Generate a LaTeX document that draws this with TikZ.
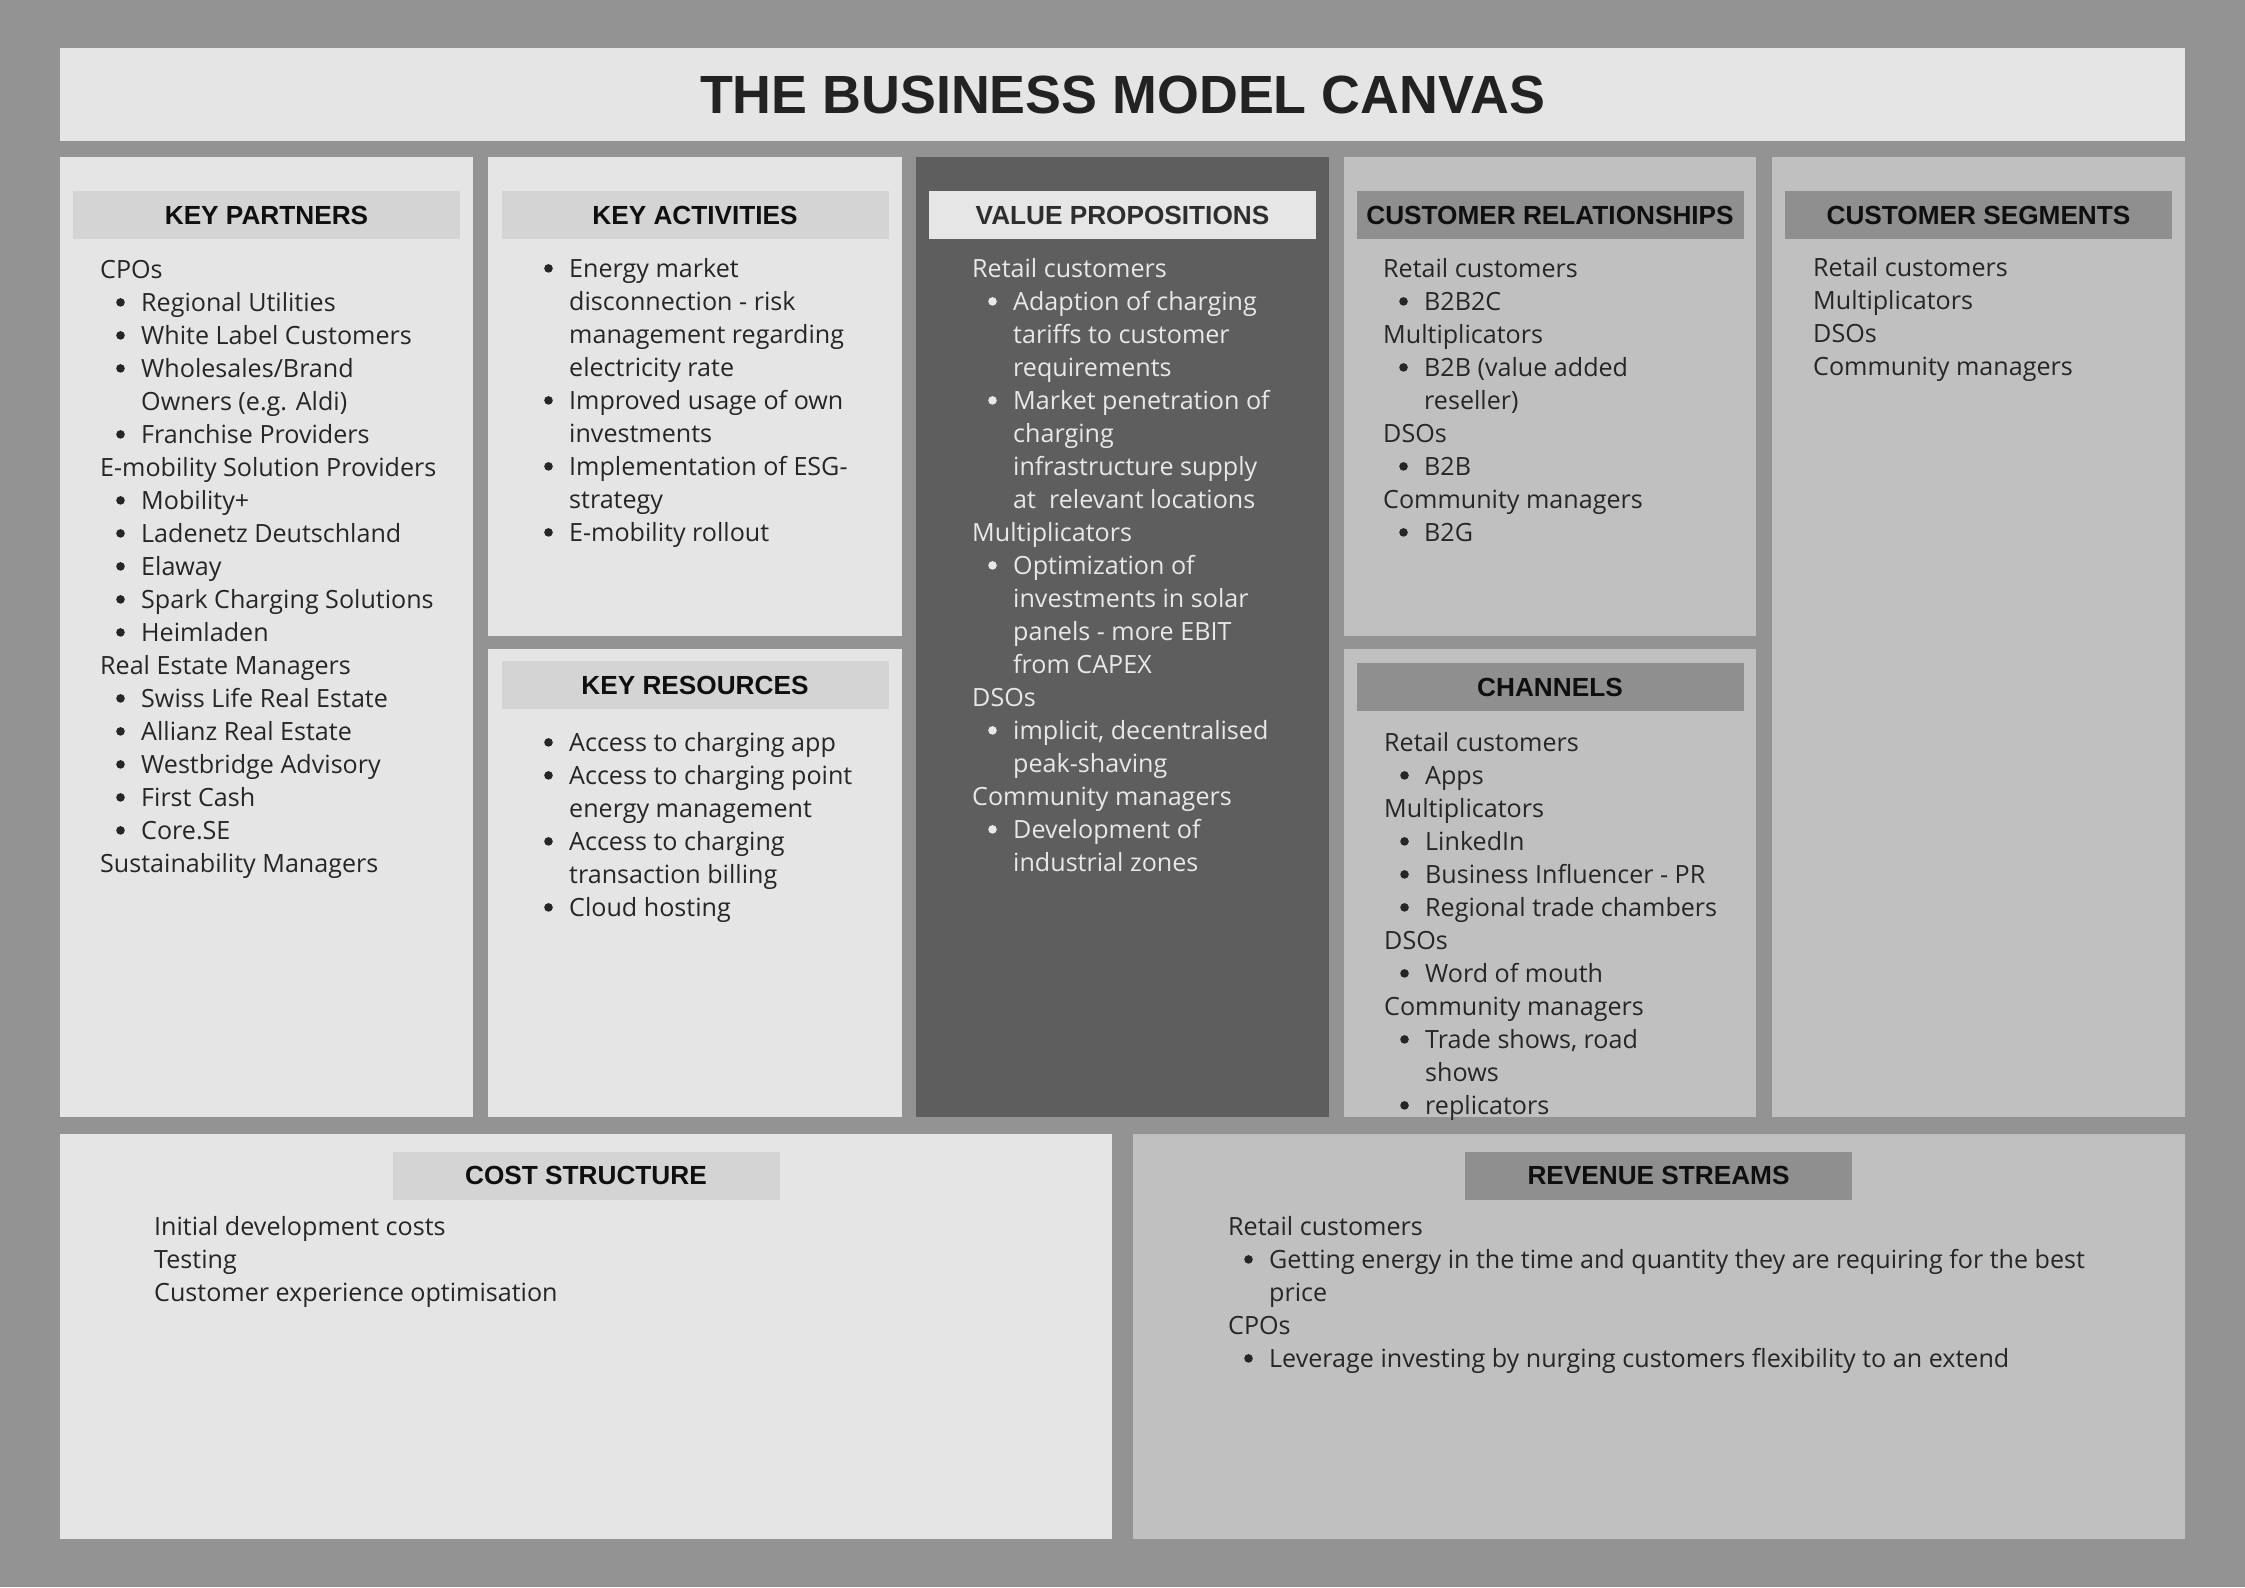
\documentclass[tikz,border=0pt]{standalone}
\usepackage{fontspec}
\setmainfont{Open Sans}
\newfontfamily\hfont{Liberation Sans}
\definecolor{bgc}{HTML}{939393}
\definecolor{lt}{HTML}{E5E5E5}
\definecolor{md}{HTML}{C0C0C0}
\definecolor{dk}{HTML}{5E5E5E}
\definecolor{hdl}{HTML}{D4D4D4}
\definecolor{hdm}{HTML}{8F8F8F}
\definecolor{hdv}{HTML}{E6E6E6}
\definecolor{txt}{HTML}{262626}
\definecolor{ltxt}{HTML}{E8E8E8}
\definecolor{htxt}{HTML}{0F0F0F}
\definecolor{vhtxt}{HTML}{2E2E2E}
\definecolor{ttxt}{HTML}{222222}
\tikzset{
  body/.style={inner sep=0pt, font=\fontsize{25.1}{33}\selectfont, text=txt},
  body-dot/.style={fill=txt},
  light/.style={inner sep=0pt, font=\fontsize{25.1}{33}\selectfont, text=ltxt},
  light-dot/.style={fill=ltxt},
  hdr/.style={minimum width=387pt, minimum height=48pt, inner sep=0pt,
    font=\hfont\bfseries\fontsize{26.2}{30}\selectfont, text=htxt},
}
\newcommand\blist[5]{%
  \foreach \k/\t [count=\i] in {#5}{%
    \pgfmathsetmacro\yy{#3+(\i-1)*33.0}%
    \ifcase\k
      \node[#4, anchor=base west] (#1-\i) at (#2,\yy) {\t};
    \or
      \fill[#4-dot] (#2+20.5,\yy-8.6) circle (4.3);
      \node[#4, anchor=base west] (#1-\i) at (#2+41,\yy) {\t};
    \or
      \node[#4, anchor=base west] (#1-\i) at (#2+41,\yy) {\t};
    \fi
  }}
\begin{document}
\begin{tikzpicture}[x=1pt,y=-1pt]
\fill[bgc] (0,0) rectangle (2245,1587);
\useasboundingbox (0,0) rectangle (2245,1587);
% title
\fill[lt] (60,48) rectangle (2185,141);
\node[inner sep=0pt, font=\hfont\bfseries\fontsize{53.8}{60}\selectfont, text=ttxt] (title) at (1122.5,95) {THE BUSINESS MODEL CANVAS};
% boxes
\fill[lt] (60,157) rectangle (473,1117);
\fill[lt] (488,157) rectangle (902,636);
\fill[lt] (488,649) rectangle (902,1117);
\fill[dk] (916,157) rectangle (1329,1117);
\fill[md] (1344,157) rectangle (1756,636);
\fill[md] (1344,649) rectangle (1756,1117);
\fill[md] (1772,157) rectangle (2185,1117);
\fill[lt] (60,1134) rectangle (1112,1539);
\fill[md] (1133,1134) rectangle (2185,1539);
% headers
\node[hdr, fill=hdl] (kph) at (266.5,215) {KEY PARTNERS};
\node[hdr, fill=hdl] (kah) at (695,215) {KEY ACTIVITIES};
\node[hdr, fill=hdl] (krh) at (695,685) {KEY RESOURCES};
\node[hdr, fill=hdv, text=vhtxt] (vph) at (1122.5,215) {VALUE PROPOSITIONS};
\node[hdr, fill=hdm] (crh) at (1550,215) {CUSTOMER RELATIONSHIPS};
\node[hdr, fill=hdm] (chh) at (1550,687) {CHANNELS};
\node[hdr, fill=hdm] (csh) at (1978.5,215) {CUSTOMER SEGMENTS};
\node[hdr, fill=hdl] (cost) at (586,1175.5) {COST STRUCTURE};
\node[hdr, fill=hdm] (revh) at (1658.5,1175.5) {REVENUE STREAMS};
% lists
\blist{kp}{100}{278}{body}{0/CPOs, 1/Regional Utilities, 1/White Label Customers, 1/{Wholesales/Brand}, 2/Owners (e.g. Aldi), 1/Franchise Providers, 0/E-mobility Solution Providers, 1/Mobility+, 1/Ladenetz Deutschland, 1/Elaway, 1/Spark Charging Solutions, 1/Heimladen, 0/Real Estate Managers, 1/Swiss Life Real Estate, 1/Allianz Real Estate, 1/Westbridge Advisory, 1/First Cash, 1/Core.SE, 0/Sustainability Managers}
\blist{ka}{528}{277}{body}{1/Energy market, 2/disconnection - risk, 2/management regarding, 2/electricity rate, 1/Improved usage of own, 2/investments, 1/Implementation of ESG-, 2/strategy, 1/E-mobility rollout}
\blist{kr}{528}{751}{body}{1/Access to charging app, 1/Access to charging point, 2/energy management, 1/Access to charging, 2/transaction billing, 1/Cloud hosting}
\blist{vp}{972}{277}{light}{0/Retail customers, 1/Adaption of charging, 2/tariffs to customer, 2/requirements, 1/Market penetration of, 2/charging, 2/infrastructure supply, 2/at~ relevant locations, 0/Multiplicators, 1/Optimization of, 2/investments in solar, 2/panels - more EBIT, 2/from CAPEX, 0/DSOs, 1/{implicit, decentralised}, 2/peak-shaving, 0/Community managers, 1/Development of, 2/industrial zones}
\blist{cr}{1383}{277}{body}{0/Retail customers, 1/B2B2C, 0/Multiplicators, 1/B2B (value added, 2/reseller), 0/DSOs, 1/B2B, 0/Community managers, 1/B2G}
\blist{cs}{1813}{276}{body}{0/Retail customers, 0/Multiplicators, 0/DSOs, 0/Community managers}
\blist{ch}{1384}{751}{body}{0/Retail customers, 1/Apps, 0/Multiplicators, 1/LinkedIn, 1/Business Influencer - PR, 1/Regional trade chambers, 0/DSOs, 1/Word of mouth, 0/Community managers, 1/{Trade shows, road}, 2/shows, 1/replicators}
\blist{co}{154}{1235}{body}{0/Initial development costs, 0/Testing, 0/Customer experience optimisation}
\blist{rv}{1228}{1235}{body}{0/Retail customers, 1/Getting energy in the time and quantity they are requiring for the best, 2/price, 0/CPOs, 1/Leverage investing by nurging customers flexibility to an extend}
\end{tikzpicture}
\end{document}
